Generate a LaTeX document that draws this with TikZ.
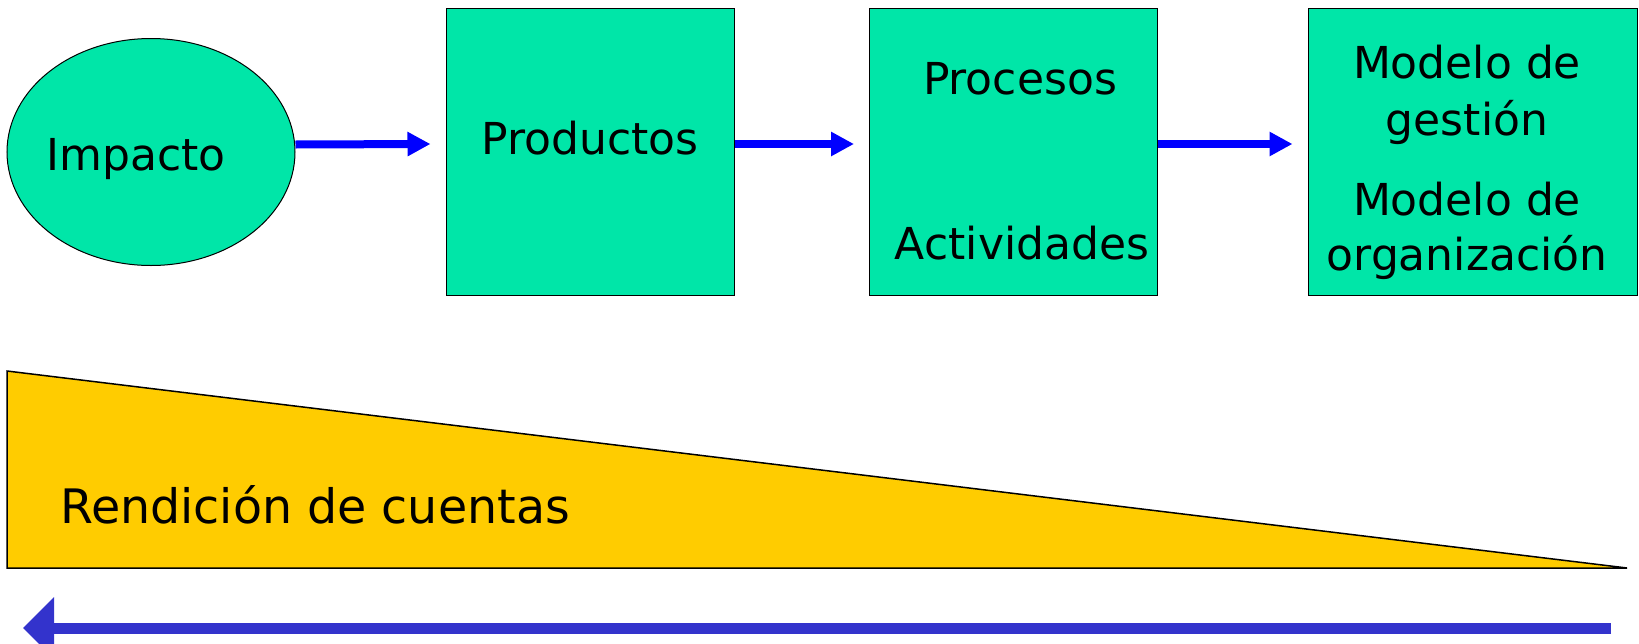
\documentclass[tikz,border=0pt]{standalone}
\usepackage{fontspec}
\setmainfont{DejaVu Sans}
\usetikzlibrary{arrows.meta, positioning, shapes.geometric, calc}
\definecolor{stagegreen}{HTML}{00E6A8}
\definecolor{flowblue}{HTML}{0000FF}
\definecolor{backblue}{HTML}{3333CC}
\definecolor{accyellow}{HTML}{FFCC00}
\tikzset{
  stage/.style={draw=black, line width=1pt, fill=stagegreen,
    minimum width=288pt, minimum height=287pt, inner sep=0pt},
  flow/.style={-{Triangle[length=23pt, width=23pt]}, flowblue, line width=8pt},
  backflow/.style={-{Triangle[length=31pt, width=60pt]}, backblue, line width=11pt},
  lbl/.style={anchor=base, inner sep=0pt, font=\fontsize{44}{56}\selectfont},
}

\begin{document}
\begin{tikzpicture}[x=1pt, y=-1pt]
        \useasboundingbox (0,0) rectangle (1639,643);
        % Stages
        \node[stage, ellipse, minimum width=288pt, minimum height=227pt]
          (impacto) at (151,152) {};
        \node[stage] (productos) at (590,151.5) {};
        \node[stage] (procesos) at (1013.5,151.5) {};
        \node[stage, minimum width=329pt] (modelo) at (1472.5,151.5) {};
        % Stage labels
        \node[lbl] (impactoTxt) at (136,170) {Impacto};
        \node[lbl] (productosTxt) at (590,154) {Productos};
        \node[lbl] (procesosTxt) at (1020,94) {Procesos};
        \node[lbl] (actividadesTxt) at (1022,259) {Actividades};
        \node[lbl] (gestionA) at (1467,78) {Modelo de};
        \node[lbl] (gestionB) at (1467,135) {gestión};
        \node[lbl] (organizA) at (1467,215) {Modelo de};
        \node[lbl] (organizB) at (1467,270) {organización};
        % Flow arrows
        \draw[flow] ([yshift=7.5pt]impacto.east)
          -- ([yshift=7.5pt, xshift=-15pt]productos.west);
        \draw[flow] ([yshift=7.5pt]productos.east)
          -- ([yshift=7.5pt, xshift=-15pt]procesos.west);
        \draw[flow] ([yshift=7.5pt]procesos.east)
          -- ([yshift=7.5pt, xshift=-15pt]modelo.west);
        % Accountability wedge
        \draw[fill=accyellow, line width=1.5pt]
          (7,371) -- (7,568) -- (1627,568) -- cycle;
        \node[lbl, anchor=base west, font=\fontsize{47.5}{57}\selectfont]
          (cuentas) at (60,523) {Rendición de cuentas};
        % Back arrow
        \coordinate (backR) at (1611,628);
        \coordinate (backL) at (23,628);
        \draw[backflow] (backR) -- (backL);
\end{tikzpicture}
\end{document}
